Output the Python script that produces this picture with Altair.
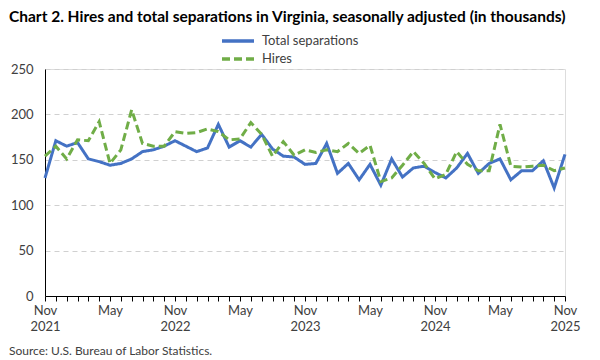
import altair as alt
import pandas as pd

# Monthly, Nov 2021 .. Nov 2025 (49 months)
months = pd.date_range("2021-11-01", "2025-11-01", freq="MS").strftime("%Y-%m").tolist()

total_separations = [130, 171, 165, 169, 151, 148, 144, 146, 151, 159, 161, 165,
                     171, 165, 159, 163, 189, 164, 171, 164, 178, 162, 154, 153,
                     145, 146, 168, 135, 146, 128, 145, 122, 151, 131, 141, 143,
                     136, 130, 141, 157, 135, 146, 151, 128, 138, 138, 149, 119,
                     156]

hires = [154, 165, 151, 172, 171, 192, 146, 161, 205, 168, 165, 165,
         181, 179, 180, 184, 181, 172, 173, 191, 178, 154, 170, 155,
         161, 158, 161, 159, 168, 157, 166, 126, 130, 144, 159, 146,
         129, 134, 159, 145, 138, 138, 189, 143, 142, 143, 144, 138,
         141]

series_names = ["Total separations", "Hires"]
series_colors = ["#4472C4", "#70AD47"]

title_text = "Chart 2. Hires and total separations in Virginia, seasonally adjusted (in thousands)"
source_text = "Source: U.S. Bureau of Labor Statistics."

df = pd.DataFrame({
    "idx": list(range(len(months))) * 2,
    "month": months * 2,
    "series": [series_names[0]] * len(months) + [series_names[1]] * len(months),
    "value": total_separations + hires,
})

FONT = "Lato"

x_enc = alt.X(
    "idx:Q",
    scale=alt.Scale(domain=[0, 48], nice=False, zero=False),
    axis=alt.Axis(
        title=None,
        values=list(range(49)),
        labelExpr="datum.value % 12 == 0 ? ['Nov', toString(2021 + datum.value / 12)] : (datum.value % 12 == 6 ? 'May' : '')",
        labelOverlap=False,
        labelFlush=False,
        tickSize=5,
        tickColor="#000000",
        domainColor="#000000",
        domainWidth=1,
        labelPadding=3,
        labelFontSize=13,
        labelLineHeight=16,
        labelColor="#404040",
        labelFont=FONT,
        grid=False,
    ),
)

y_enc = alt.Y(
    "value:Q",
    scale=alt.Scale(domain=[0, 250], nice=False),
    axis=alt.Axis(
        title=None,
        values=[0, 50, 100, 150, 200, 250],
        ticks=False,
        labelPadding=12,
        labelFontSize=13,
        labelColor="#404040",
        labelFont=FONT,
        domainColor="#000000",
        domainWidth=1,
        grid=True,
        gridColor="#d0d0d0",
        gridDash=[5, 4],
        gridWidth=1,
    ),
)

legend = alt.Legend(
    title=None,
    orient="none",
    legendX=183,
    legendY=-38,
    direction="vertical",
    symbolType="M-2,0L2,0",
    symbolStrokeWidth=3.5,
    symbolSize=256,
    labelFontSize=13,
    labelFont=FONT,
    labelColor="#404040",
    rowPadding=1,
    labelOffset=14,
)

lines = alt.Chart(df).mark_line(strokeWidth=3).encode(
    x=x_enc,
    y=y_enc,
    color=alt.Color("series:N", scale=alt.Scale(domain=series_names, range=series_colors),
                    sort=series_names, legend=legend),
    strokeDash=alt.StrokeDash("series:N",
                              scale=alt.Scale(domain=series_names, range=[[1, 0], [8, 4]]),
                              sort=series_names, legend=legend),
    detail="series:N",
)

title = alt.Chart(pd.DataFrame({"t": [title_text]})).mark_text(
    align="left", baseline="top", fontSize=15.5, fontWeight="bold", font=FONT, color="#000000"
).encode(
    text="t:N",
    x=alt.value(-36),
    y=alt.value(-59),
)

source = alt.Chart(pd.DataFrame({"t": [source_text]})).mark_text(
    align="left", baseline="middle", fontSize=12, font=FONT, color="#404040"
).encode(
    text="t:N",
    x=alt.value(-36),
    y=alt.value(282),
)

chart = alt.layer(lines, title, source).properties(
    width=520,
    height=227,
    autosize=alt.AutoSizeParams(type="none"),
    padding={"left": 37, "top": 61, "right": 27, "bottom": 64},
).configure_view(
    stroke="#d9d9d9",
    strokeWidth=1,
).configure(background="#ffffff")

chart.save("out.html", embed_options={"renderer": "svg", "actions": False})
